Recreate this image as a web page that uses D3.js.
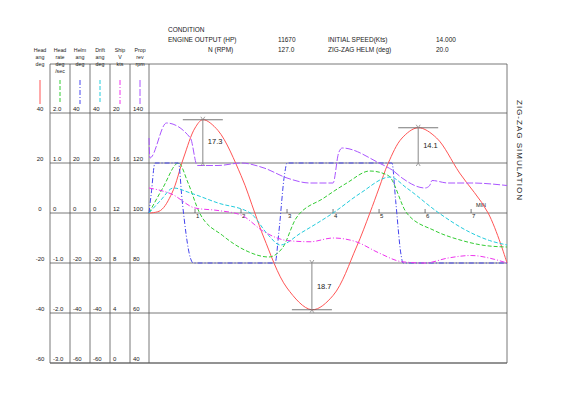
<!DOCTYPE html>
<html><head><meta charset="utf-8">
<script src="https://cdn.jsdelivr.net/npm/d3@7"></script>
<style>
body{margin:0;background:#fff}
text{font-family:"Liberation Sans",Arial,sans-serif;font-size:6.5px;fill:#222}
</style></head><body><div id="chart"></div>
<script>
// time in minutes
const headT   = [0,0.25,0.5,0.75,1.0,1.17,1.5,2.0,2.3,2.5,3.0,3.54,4.0,4.5,4.8,5.0,5.2,5.5,5.85,6.25,6.75,7.37,7.78];
const headV   = [0,1,8,22,34,37.3,33,15,0,-10,-30,-38.7,-33,-14,0,10,20,30,34.1,30,16,0,-20];
const helmT   = [0,0.05,0.13,0.64,0.72,0.9,0.96,2.74,2.82,2.95,3.0,5.28,5.36,5.48,5.52,7.78];
const helmV   = [0,8,20,20,5,-18,-20,-20,-8,16,20,20,5,-17,-20,-20];
const rateT   = [0,0.3,0.64,0.85,1.1,1.6,2.1,2.6,2.9,3.2,3.8,4.3,4.8,5.2,5.6,6.2,6.8,7.3,7.78];
const rateV   = [0,0.5,1.0,0.6,0,-0.45,-0.75,-0.88,-0.7,-0.1,0.3,0.6,0.84,0.75,0,-0.35,-0.55,-0.65,-0.68];
const driftT  = [0,0.25,0.53,0.9,1.5,2.2,2.6,2.85,3.3,4.0,4.6,5.24,5.6,6.3,6.9,7.4,7.78];
const driftV  = [0,5,10,8,4,0,-9,-12.8,-8,0,8,14.4,10,0,-7,-11,-12.8];
const speedT  = [0,0.5,1.0,1.5,2.0,2.5,3.0,3.5,4.0,4.5,5.0,5.5,6.0,6.5,7.0,7.5,7.78];
const speedV  = [14,13.5,12.4,12.2,11.84,10.5,9.8,9.7,10.0,9.7,8.8,8.1,8.0,8.4,8.6,8.3,8.0];
const rpmT    = [0,0.02,0.38,0.9,1.05,1.5,2.0,2.5,3.0,3.5,4.0,4.12,4.2,5.0,5.3,5.5,6.0,6.1,6.15,6.5,7.0,7.78];
const rpmV    = [130,122,136,130,119,119,120,118,114,112,112,124,126,120,117,114,110,111,113,112,112,111];
const timeTicks = [1,2,3,4,5,6,7];
const gridLines = [40,20,0,-20,-40,-60];
const colHeads = [["Head","ang","deg"],["Head","rate","deg","/sec"],["Helm","ang","deg"],["Drift","ang","deg"],["Ship","V","kts"],["Prop","rev","rpm"]];
const colTicks = [
  ["40","20","0","-20","-40","-60"],
  ["2.0","1.0","0","-1.0","-2.0","-3.0"],
  ["40","20","0","-20","-40","-60"],
  ["40","20","0","-20","-40","-60"],
  ["20","16","12","8","4","0"],
  ["140","120","100","80","60","40"]];
const colors = ["#f55","#3c3","#44e","#2cd","#e3e","#a5f"];
const dashes = [null,"4,2","5,2,1,2","4,2","5,2,1,2","7,2"];

const svg = d3.select("#chart").append("svg").attr("width",570).attr("height",400);
const x = d3.scaleLinear().domain([0,7.78]).range([149,507]);
const y = d3.scaleLinear().domain([40,-60]).range([113,363]);

// header
const hd = [["CONDITION",168,32],["ENGINE OUTPUT (HP)",168,42],["11670",278,42],["INITIAL SPEED(Kts)",328,42],["14.000",436,42],
            ["N (RPM)",208,52],["127.0",278,52],["ZIG-ZAG HELM (deg)",328,52],["20.0",436,52]];
svg.selectAll(".hd").data(hd).join("text").attr("x",d=>d[1]).attr("y",d=>d[2]).text(d=>d[0]);
svg.append("text").attr("transform","translate(517,100) rotate(90)").style("font-size","8px").style("letter-spacing","1px").text("ZIG-ZAG SIMULATION");

// frame
const g = svg.append("g").attr("stroke","#555").attr("stroke-width",0.8).attr("fill","none");
g.append("line").attr("x1",50).attr("x2",507).attr("y1",64).attr("y2",64);
g.append("line").attr("x1",50).attr("x2",507).attr("y1",363).attr("y2",363);
[50,70,90,110,130,149,507].forEach(v=>g.append("line").attr("x1",v).attr("x2",v).attr("y1",64).attr("y2",363));
gridLines.forEach(v=>g.append("line").attr("x1",50).attr("x2",507).attr("y1",y(v)).attr("y2",y(v)));

// column heads, legend samples, tick labels
const colC = [40,60,80,100,120,140];
colHeads.forEach((h,i)=>{
  h.forEach((s,j)=>svg.append("text").attr("x",colC[i]).attr("y",52+j*7).attr("text-anchor","middle").style("font-size","5.3px").text(s));
  svg.append("line").attr("x1",colC[i]).attr("x2",colC[i]).attr("y1",80).attr("y2",104)
    .attr("stroke",colors[i]).attr("stroke-width",1).attr("stroke-dasharray",dashes[i]);
  colTicks[i].forEach((t,k)=>svg.append("text").attr("x",i==0?colC[i]:colC[i]-7).attr("text-anchor",i==0?"middle":"start")
    .attr("y",y(gridLines[k])-2).style("font-size","6px").text(t));
});

// time ticks
timeTicks.forEach(t=>{
  svg.append("line").attr("x1",x(t)).attr("x2",x(t)).attr("y1",y(0)-4).attr("y2",y(0)).attr("stroke","#555").attr("stroke-width",0.8);
  svg.append("text").attr("x",x(t)+1).attr("y",y(0)+5).style("font-size","6px").text(t);
});
svg.append("text").attr("x",476).attr("y",207).style("font-size","5.5px").text("MIN");

// series (converted to heading-angle units)
const series = [
  [headT,headV,v=>v],[rateT,rateV,v=>v*20],[helmT,helmV,v=>v],
  [driftT,driftV,v=>v],[speedT,speedV,v=>(v-12)*5],[rpmT,rpmV,v=>v-100]];
const line = d3.line().x(d=>x(d[0])).y(d=>y(d[1])).curve(d3.curveMonotoneX);
series.forEach((s,i)=>{
  const pts = s[0].map((t,k)=>[t,s[2](s[1][k])]);
  svg.append("path").attr("d",i==0?d3.line().x(d=>x(d[0])).y(d=>y(d[1])).curve(d3.curveCatmullRom)(pts):line(pts))
    .attr("fill","none").attr("stroke",colors[i]).attr("stroke-width",1).attr("stroke-dasharray",dashes[i]);
});

// overshoot annotations
const ann = [[1.17,37.3,20,"17.3"],[5.85,34.1,20,"14.1"],[3.54,-38.7,-20,"18.7"]];
ann.forEach(a=>{
  const ax=x(a[0]), y1=y(a[2]), y2=y(a[1]), dir = y2<y1?1:-1;
  svg.append("line").attr("x1",ax-20).attr("x2",ax+20).attr("y1",y2).attr("y2",y2).attr("stroke","#555").attr("stroke-width",0.8);
  svg.append("line").attr("x1",ax).attr("x2",ax).attr("y1",y1).attr("y2",y2).attr("stroke","#888").attr("stroke-width",1);
  [y1,y2].forEach((yy,k)=>{
    const d = (k==0?-dir:dir)*3;
    svg.append("path").attr("d",`M${ax-2},${yy-d}L${ax},${yy}L${ax+2},${yy-d}`).attr("fill","none").attr("stroke","#888").attr("stroke-width",0.8);
  });
  svg.append("text").attr("x",ax+5).attr("y",(y1+y2)/2+3).style("font-size","7.5px").text(a[3]);
});
</script></body></html>
